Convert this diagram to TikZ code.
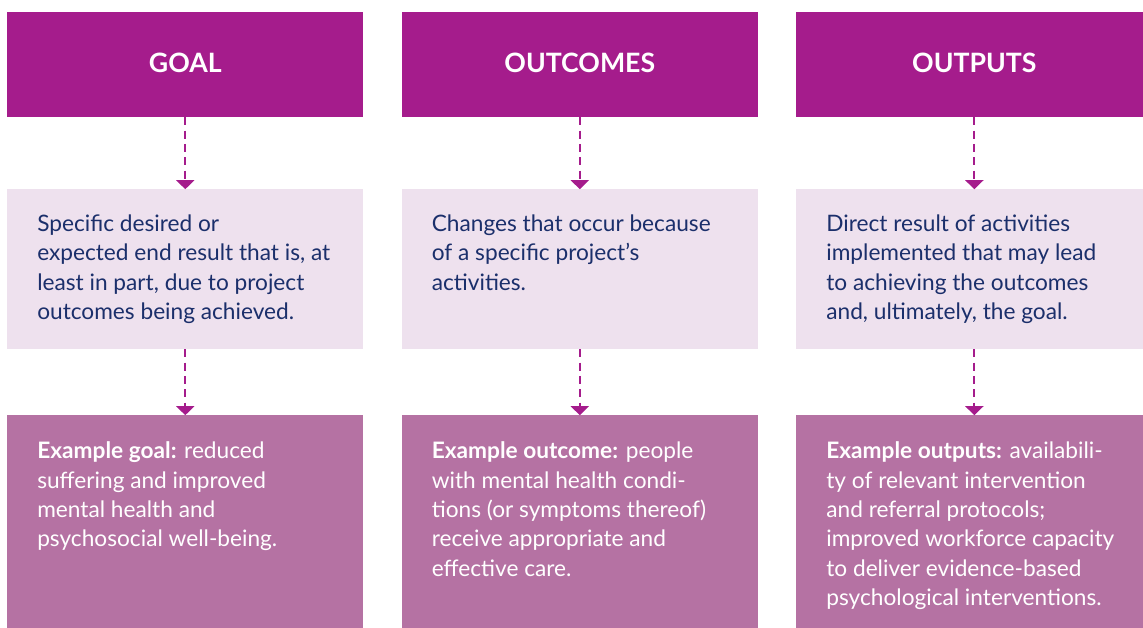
\documentclass[tikz,border=0pt]{standalone}
\usepackage{fontspec}
\setmainfont{Lato}
\usetikzlibrary{arrows.meta, positioning}
\definecolor{plum}{RGB}{165, 28, 140}
\definecolor{lilac}{RGB}{238, 225, 238}
\definecolor{mauve}{RGB}{181, 114, 163}
\definecolor{navy}{RGB}{27, 47, 107}

\begin{document}
\begin{tikzpicture}[
      head/.style={
        rectangle, minimum width=267pt, minimum height=78.5pt, inner sep=0pt, text depth=3pt,
        fill=plum, text=white, font=\fontsize{20}{24}\selectfont\bfseries
      },
      desc/.style={rectangle, minimum width=267pt, minimum height=119.6pt, inner sep=0pt, fill=lilac},
      expl/.style={rectangle, minimum width=267pt, minimum height=165pt, inner sep=0pt, fill=mauve},
      body/.style={inner sep=0pt, align=left, font=\fontsize{17}{22}\selectfont},
      arr/.style={-{Triangle[width=13.5pt, length=6.75pt]}, dash pattern=on 6pt off 4pt, line width=1.5pt, color=plum}
  ]
    \useasboundingbox (0,0) rectangle (857.25pt,-471pt);

    \node[head, anchor=north west] (goal) at (5.25pt,-9pt) {GOAL};
    \node[head] (outcomes) [right=28.5pt of goal] {OUTCOMES};
    \node[head] (outputs)  [right=28.5pt of outcomes] {OUTPUTS};

    \node[desc] (goaldesc)     [below=54pt of goal] {};
    \node[desc] (outcomesdesc) [below=54pt of outcomes] {};
    \node[desc] (outputsdesc)  [below=54pt of outputs] {};

    \node[expl] (goalex)     [below=49.5pt of goaldesc, anchor=north] {};
    \node[expl] (outcomesex) [below=49.5pt of outcomesdesc, anchor=north] {};
    \node[expl] (outputsex)  [below=49.5pt of outputsdesc, anchor=north] {};

    \node[body, text=navy] (goaltxt) [below right=19pt and 22.5pt of goaldesc.north west]
      {Specific desired or\\expected end result that is, at\\least in part, due to project\\outcomes being achieved.};
    \node[body, text=navy] (outcomestxt) [below right=19pt and 22.5pt of outcomesdesc.north west]
      {Changes that occur because\\of a specific project’s\\activities.};
    \node[body, text=navy] (outputstxt) [below right=19pt and 22.5pt of outputsdesc.north west]
      {Direct result of activities\\implemented that may lead\\to achieving the outcomes\\and, ultimately, the goal.};

    \node[body, text=white] (goalextxt) [below right=20pt and 22.5pt of goalex.north west]
      {\textbf{Example goal:} reduced\\suffering and improved\\mental health and\\psychosocial well-being.};
    \node[body, text=white] (outcomesextxt) [below right=20pt and 22.5pt of outcomesex.north west]
      {\textbf{Example outcome:} people\\with mental health condi-\\tions (or symptoms thereof)\\receive appropriate and\\effective care.};
    \node[body, text=white] (outputsextxt) [below right=20pt and 22.5pt of outputsex.north west]
      {\textbf{Example outputs:} availabili-\\ty of relevant intervention\\and referral protocols;\\improved workforce capacity\\to deliver evidence-based\\psychological interventions.};

    \draw[arr] (goal)     -- (goaldesc);
    \draw[arr] (outcomes) -- (outcomesdesc);
    \draw[arr] (outputs)  -- (outputsdesc);
    \draw[arr] (goaldesc)     -- (goalex);
    \draw[arr] (outcomesdesc) -- (outcomesex);
    \draw[arr] (outputsdesc)  -- (outputsex);
  \end{tikzpicture}
\end{document}
